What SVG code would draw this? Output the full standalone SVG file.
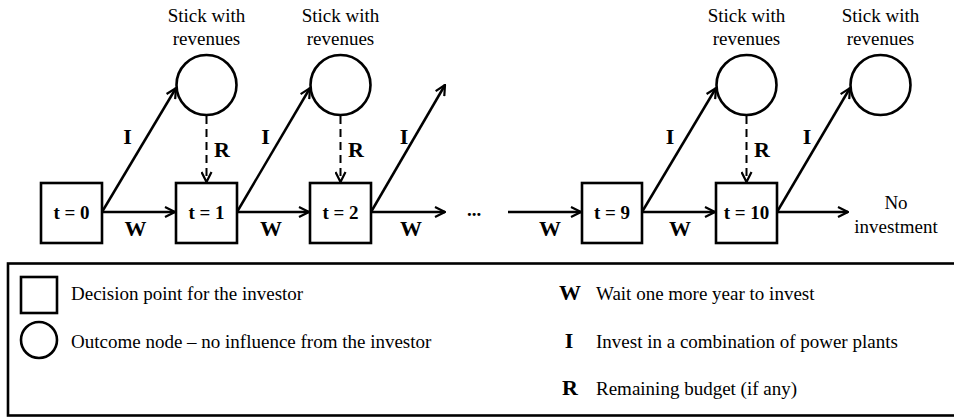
<svg xmlns="http://www.w3.org/2000/svg" width="954" height="418" viewBox="0 0 954 418">
  <style>
    .box { fill: #fff; stroke: #000; stroke-width: 2.6; }
    .out { fill: #fff; stroke: #000; stroke-width: 2.6; }
    .edge { fill: none; stroke: #000; stroke-width: 2.5; }
    .dash { fill: none; stroke: #000; stroke-width: 2; stroke-dasharray: 8 5; }
    .t { font-family: "Liberation Serif", "DejaVu Serif", serif; font-size: 19px; fill: #000; }
    .tc { text-anchor: middle; }
    .lbl { font-family: "Liberation Serif", "DejaVu Serif", serif; font-weight: bold; font-size: 22px; fill: #000; text-anchor: middle; }
    .step { font-family: "Liberation Serif", "DejaVu Serif", serif; font-weight: bold; font-size: 19px; fill: #000; text-anchor: middle; }
  </style>
  <defs>
    <marker id="arr" viewBox="0 0 12 12" refX="11" refY="6" markerWidth="12" markerHeight="12" markerUnits="userSpaceOnUse" orient="auto">
      <path d="M1,1 L11,6 L1,11" fill="none" stroke="#000" stroke-width="2.2"/>
    </marker>
  </defs>

  <!-- connectors -->
  <g id="connectors">
    <!-- wait (W) -->
    <line class="edge" x1="102" y1="212" x2="175" y2="212" marker-end="url(#arr)"/>
    <line class="edge" x1="237" y1="212" x2="309" y2="212" marker-end="url(#arr)"/>
    <line class="edge" x1="371" y1="212" x2="445" y2="212" marker-end="url(#arr)"/>
    <line class="edge" x1="508" y1="212" x2="581" y2="212" marker-end="url(#arr)"/>
    <line class="edge" x1="642" y1="212" x2="715" y2="212" marker-end="url(#arr)"/>
    <line class="edge" x1="777" y1="212" x2="848" y2="212" marker-end="url(#arr)"/>
    <!-- invest (I) -->
    <line class="edge" x1="102" y1="212" x2="176" y2="88" marker-end="url(#arr)"/>
    <line class="edge" x1="237" y1="212" x2="310" y2="88" marker-end="url(#arr)"/>
    <line class="edge" x1="371" y1="212" x2="445" y2="85" marker-end="url(#arr)"/>
    <line class="edge" x1="642" y1="212" x2="716" y2="88" marker-end="url(#arr)"/>
    <line class="edge" x1="777" y1="212" x2="850" y2="88" marker-end="url(#arr)"/>
    <!-- remaining budget (R) -->
    <line class="dash" x1="206.5" y1="116" x2="206.5" y2="182" marker-end="url(#arr)"/>
    <line class="dash" x1="340.5" y1="116" x2="340.5" y2="182" marker-end="url(#arr)"/>
    <line class="dash" x1="746.5" y1="116" x2="746.5" y2="182" marker-end="url(#arr)"/>

    <!-- edge labels -->
    <text class="lbl" x="135.5" y="236">W</text>
    <text class="lbl" x="271" y="236">W</text>
    <text class="lbl" x="411" y="236">W</text>
    <text class="lbl" x="550" y="236">W</text>
    <text class="lbl" x="680" y="236">W</text>
    <text class="lbl" x="127.5" y="144">I</text>
    <text class="lbl" x="265.5" y="144">I</text>
    <text class="lbl" x="404" y="144">I</text>
    <text class="lbl" x="670" y="144">I</text>
    <text class="lbl" x="807" y="144">I</text>
    <text class="lbl" x="222" y="157">R</text>
    <text class="lbl" x="356" y="157">R</text>
    <text class="lbl" x="762" y="157">R</text>
    <text class="t tc" x="474" y="216" font-weight="bold">...</text>
  </g>

  <!-- decision points -->
  <g id="t0"><rect class="box" x="41" y="183" width="61" height="60"/><text class="step" x="71.5" y="219">t = 0</text></g>
  <g id="t1"><rect class="box" x="176" y="183" width="61" height="60"/><text class="step" x="206.5" y="219">t = 1</text></g>
  <g id="t2"><rect class="box" x="310" y="183" width="61" height="60"/><text class="step" x="340.5" y="219">t = 2</text></g>
  <g id="t9"><rect class="box" x="582" y="183" width="60" height="60"/><text class="step" x="612" y="219">t = 9</text></g>
  <g id="t10"><rect class="box" x="716" y="183" width="61" height="60"/><text class="step" x="746.5" y="219">t = 10</text></g>

  <!-- outcome nodes -->
  <g id="o1"><circle class="out" cx="206.5" cy="85" r="30"/><text class="t tc" x="206.5" y="22">Stick with</text><text class="t tc" x="206.5" y="45">revenues</text></g>
  <g id="o2"><circle class="out" cx="340.5" cy="85" r="30"/><text class="t tc" x="340.5" y="22">Stick with</text><text class="t tc" x="340.5" y="45">revenues</text></g>
  <g id="o9"><circle class="out" cx="746.5" cy="85" r="30"/><text class="t tc" x="746.5" y="22">Stick with</text><text class="t tc" x="746.5" y="45">revenues</text></g>
  <g id="o10"><circle class="out" cx="880.5" cy="85" r="30"/><text class="t tc" x="880.5" y="22">Stick with</text><text class="t tc" x="880.5" y="45">revenues</text></g>

  <g id="no-investment"><text class="t tc" x="896" y="209">No</text><text class="t tc" x="896" y="233">investment</text></g>

  <!-- legend -->
  <g id="legend">
    <rect x="8" y="263.5" width="952" height="152" fill="none" stroke="#000" stroke-width="2.6"/>
    <rect class="box" x="21" y="277" width="36" height="36"/>
    <text class="t" x="71" y="300">Decision point for the investor</text>
    <circle class="out" cx="39" cy="340" r="18"/>
    <text class="t" x="71" y="348">Outcome node – no influence from the investor</text>
    <text class="lbl" x="570" y="300">W</text>
    <text class="t" x="596" y="300">Wait one more year to invest</text>
    <text class="lbl" x="569" y="348">I</text>
    <text class="t" x="596" y="348">Invest in a combination of power plants</text>
    <text class="lbl" x="570" y="395">R</text>
    <text class="t" x="596" y="395">Remaining budget (if any)</text>
  </g>
</svg>
